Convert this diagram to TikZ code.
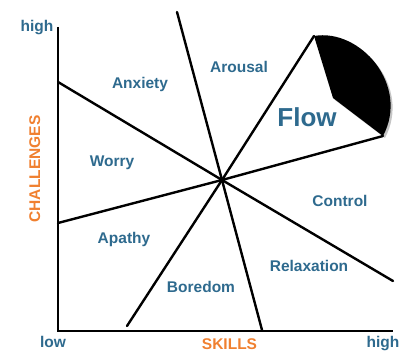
\documentclass[tikz,border=0pt]{standalone}
\usepackage{fontspec}
\setmainfont{Liberation Sans}
\usetikzlibrary{arrows}
\usetikzlibrary{calc}
\definecolor{zonetext}{RGB}{46,106,142}
\definecolor{axistext}{RGB}{240,128,48}

\begin{document}
\begin{tikzpicture}[x=1pt,y=-1pt,
	zone/.style={font=\fontsize{15.5}{18}\selectfont\bfseries, text=zonetext, anchor=base, inner sep=0pt},
	axislabel/.style={font=\fontsize{15.5}{18}\selectfont\bfseries, text=axistext, anchor=base, inner sep=0pt},
	ray/.style={line width=2.4pt, line cap=round}]
	\useasboundingbox (0,0) rectangle (399,352);
	\coordinate (o) at (222,180);
	\coordinate (top) at (58,27);
	\coordinate (corner) at (58,331);
	\coordinate (right) at (393,331);
	\coordinate (r1) at (58,82);
	\coordinate (r2) at (177,12);
	\coordinate (r3) at (314,36);
	\coordinate (r4) at (383,136);
	\coordinate (r5) at (393,281);
	\coordinate (r6) at (262,330);
	\coordinate (r7) at (127,326);
	\coordinate (r8) at (58,223);
	\coordinate (k) at (333,98);
	% black wedge with its shadow
	\fill[black!45, opacity=0.5] ($(r3)+(2,2)$) .. controls (362,30) and (412,87) .. ($(r4)+(2,2)$) -- ($(k)+(2,2)$) -- cycle;
	\fill[black] (r3) .. controls (360,28) and (410,85) .. (r4) -- (k) -- cycle;
	\draw[line width=2.4pt] (top) -- (corner) -- (right);
	\foreach \r in {r1,r2,r3,r4,r5,r6,r7,r8}
		\draw[ray] (o) -- (\r);
	\node[zone] (anxiety) at (140,89) {Anxiety};
	\node[zone] (arousal) at (239,73) {Arousal};
	\node[zone, font=\fontsize{26}{30}\selectfont\bfseries] (flow) at (307,127) {Flow};
	\node[zone] (worry) at (112,167) {Worry};
	\node[zone] (control) at (340,207) {Control};
	\node[zone] (apathy) at (124,244) {Apathy};
	\node[zone] (relax) at (309,272) {Relaxation};
	\node[zone] (boredom) at (201,293) {Boredom};
	\node[zone] (hightop) at (37,32) {high};
	\node[zone] (low) at (53,348) {low};
	\node[zone] (highright) at (383,348) {high};
	\node[axislabel] (skills) at (229.5,349.5) {SKILLS};
	\node[axislabel, rotate=90] (challenges) at (40,169) {CHALLENGES};
\end{tikzpicture}
\end{document}
